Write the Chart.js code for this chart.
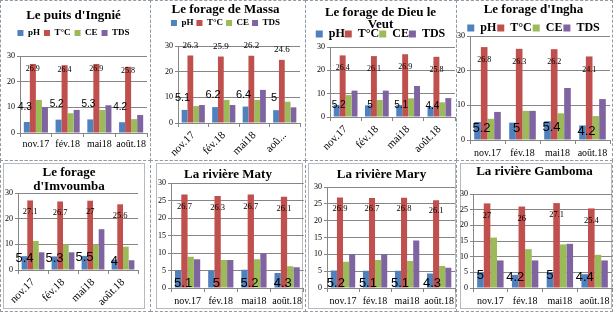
<!DOCTYPE html>
<html>
<head>
<meta charset="utf-8">
<script src="https://cdn.jsdelivr.net/npm/chart.js@4"></script>
<style>
  body { margin: 0; background: #fff; width: 613px; height: 312px; overflow: hidden; position: relative; }
  canvas { position: absolute; }
  .cell { position: absolute; box-sizing: border-box; border: 1px dashed #8e9aa8; }
  .frame { position: absolute; box-sizing: border-box; border: 1px solid #b9b9b9; }
</style>
</head>
<body>
<script>
// categories and series
const months = ['nov.17', 'fév.18', 'mai18', 'août.18'];
const seriesNames = ['pH', 'T°C', 'CE', 'TDS'];
const colors = ['#4f81bd', '#c0504d', '#9bbb59', '#8064a2'];

const sites = [
  "Le puits d'Ingnié",
  'Le forage de Massa',
  ['Le forage de Dieu le', 'Veut'],
  "Le forage d'Ingha",
  ['Le forage', "d'Imvoumba"],
  'La rivière Maty',
  'La rivière Mary',
  'La rivière Gamboma'
];

const phValues = [
  [4.3, 5.2, 5.3, 4.2],
  [5.1, 6.2, 6.4, 5],
  [5.2, 5, 5.1, 4.4],
  [5.2, 5, 5.4, 4.2],
  [5.4, 5.3, 5.5, 4],
  [5.1, 5, 5.2, 4.3],
  [5.2, 5.1, 5.1, 4.3],
  [5, 4.2, 5, 4.4]
];
const tempValues = [
  [26.9, 26.4, 26.9, 25.8],
  [26.3, 25.9, 26.2, 24.6],
  [26.4, 26.1, 26.9, 25.8],
  [26.8, 26.3, 26.2, 24.1],
  [27.1, 26.7, 27, 25.6],
  [26.7, 26.3, 26.7, 26.1],
  [26.9, 26.7, 26.8, 26.1],
  [27, 26, 27.1, 25.4]
];
const ceValues = [
  [12.9, 7.7, 9, 5.4],
  [6.6, 9, 9, 8.3],
  [9.4, 7.3, 8, 6.3],
  [6.1, 8.4, 7.7, 6.9],
  [11.3, 10, 10, 9.1],
  [8.9, 8, 8.2, 6.2],
  [7.8, 8.3, 8, 6.5],
  [16.1, 12.4, 13.9, 10.6]
];
const tdsValues = [
  [10.1, 9, 10.8, 7],
  [7, 7, 12.9, 6.1],
  [11.3, 11.3, 13.3, 8.1],
  [8.1, 8.4, 15, 11.8],
  [6.9, 6.9, 15.9, 3.8],
  [8.2, 8, 9.9, 5.9],
  [10, 10, 14.1, 6],
  [8.8, 8.8, 14.1, 8.8]
];

const serif = "'Liberation Serif', 'DejaVu Serif', serif";
const sans = "'Liberation Sans', Arial, sans-serif";
const gridColor = '#868686';

// where each little chart sits on the page (absolute px)
const panels = [
  { box: [0, 0, 150, 158], area: [20, 56, 147, 133], title: { y: 16, size: 13 },
    legend: { y: 33, size: 9, box: 6, pad: 4 }, step: 10, rot: 0, xPad: 1, xFont: 10,
    ph: { base: false, off: -15, dx: -2, size: 10 }, t: { off: 4.5, size: 8 } },
  { box: [151, 0, 154, 158], area: [178, 46, 300, 123], title: { y: 10, size: 13 },
    legend: { y: 23, size: 9, box: 6, pad: 3 }, step: 10, rot: 45, xPad: 2, xFont: 11,
    ph: { base: false, off: -12, dx: -2, size: 11 }, t: { off: -10, size: 9 } },
  { box: [306, 0, 150, 158], area: [330, 47, 455, 117], title: { y: 13, size: 13, lh: 12 },
    legend: { y: 34, size: 12, box: 7, pad: 0 }, step: 10, rot: 45, xPad: 2, xFont: 11,
    ph: { base: false, off: 0, dx: 2, size: 10 }, t: { off: 13, size: 8 } },
  { box: [457, 0, 156, 156], area: [470, 36, 610, 140], title: { y: 10, size: 13 },
    legend: { y: 28, size: 12, box: 7, pad: 1 }, step: 10, rot: 0, xPad: 3, xFont: 10,
    ph: { base: false, off: 6, dx: 4, size: 13 }, t: { off: 13, size: 8 } },
  { box: [0, 160, 150, 152], area: [18, 193, 138, 270], title: { y: 173, size: 13, lh: 14 },
    legend: null, step: 10, rot: 45, xPad: 2, xFont: 11,
    ph: { base: false, off: 2, dx: 0, size: 13 }, t: { off: 11, size: 8.5 } },
  { box: [151, 160, 154, 152], area: [171, 183, 305, 288], title: { y: 175, size: 13 },
    legend: null, step: 5, rot: 0, xPad: 3, xFont: 10,
    ph: { base: true, off: -5, dx: 5, size: 13 }, t: { off: 12, size: 8.5 } },
  { box: [306, 160, 151, 152], area: [327, 187, 457, 288], title: { y: 175, size: 13 },
    legend: null, step: 5, rot: 0, xPad: 3, xFont: 10,
    ph: { base: true, off: -5, dx: 2, size: 13 }, t: { off: 11, size: 8.5 } },
  { box: [457, 160, 156, 152], area: [473, 194, 612, 288], title: { y: 172, size: 13 },
    legend: null, step: 5, rot: 0, xPad: 3, xFont: 10,
    ph: { base: false, off: 3, dx: 0, size: 13 }, t: { off: 12, size: 8.5 } }
];

const cells = [
  [0, 0, 151, 161], [150, 0, 156, 161], [305, 0, 152, 161], [456, 0, 157, 161],
  [0, 160, 151, 152], [150, 160, 156, 152], [305, 160, 152, 152], [456, 160, 157, 152]
];
const frames = [
  [3, 163, 142, 146], [156, 163, 147, 146], [308, 163, 148, 146], [460, 163, 152, 146]
];

cells.forEach(c => {
  const d = document.createElement('div');
  d.className = 'cell';
  d.style.cssText = `left:${c[0]}px;top:${c[1]}px;width:${c[2]}px;height:${c[3]}px`;
  document.body.appendChild(d);
});
frames.forEach(c => {
  const d = document.createElement('div');
  d.className = 'frame';
  d.style.cssText = `left:${c[0]}px;top:${c[1]}px;width:${c[2]}px;height:${c[3]}px`;
  document.body.appendChild(d);
});

// move title / legend to where they sit in the picture
const placeBoxes = {
  id: 'placeBoxes',
  afterLayout(chart, args, opts) {
    const t = chart.titleBlock;
    if (t && opts.titleY != null) {
      const h = t.height;
      t.top = opts.titleY - opts.titleLh / 2;
      t.bottom = t.top + h;
    }
    const lg = chart.legend;
    if (lg && opts.legendY != null) {
      const h = lg.height;
      lg.top = opts.legendY - opts.legendPad - opts.legendItem / 2;
      lg.bottom = lg.top + h;
    }
  }
};

// pH and T°C value labels
const valueLabels = {
  id: 'valueLabels',
  afterDatasetsDraw(chart, args, opts) {
    const ctx = chart.ctx;
    const y0 = chart.scales.y.getPixelForValue(0);
    ctx.save();
    ctx.fillStyle = '#000';
    ctx.textAlign = 'center';
    ctx.textBaseline = 'middle';
    ctx.font = opts.phSize + 'px ' + sans;
    chart.getDatasetMeta(0).data.forEach((bar, i) => {
      const y = opts.phBase ? y0 + opts.phOff : bar.y + opts.phOff;
      ctx.fillText(String(chart.data.datasets[0].data[i]), bar.x + opts.phDx, y);
    });
    ctx.font = opts.tSize + 'px ' + serif;
    chart.getDatasetMeta(1).data.forEach((bar, i) => {
      ctx.fillText(String(chart.data.datasets[1].data[i]), bar.x, bar.y + opts.tOff);
    });
    ctx.restore();
  }
};

panels.forEach((p, k) => {
  const [bx, by, bw, bh] = p.box;
  const cv = document.createElement('canvas');
  cv.width = bw;
  cv.height = bh;
  cv.style.left = bx + 'px';
  cv.style.top = by + 'px';
  document.body.appendChild(cv);

  const al = p.area[0] - bx, at = p.area[1] - by, ar = p.area[2] - bx, ab = p.area[3] - by;
  const lines = Array.isArray(sites[k]) ? sites[k].length : 1;
  const lh = p.title.lh || p.title.size;
  const item = p.legend ? Math.max(p.legend.size, p.legend.box) : 0;
  const legendH = p.legend ? item + p.legend.pad + 10 : 0;
  const padTop = at - lines * lh - legendH;
  const series = [phValues[k], tempValues[k], ceValues[k], tdsValues[k]];

  new Chart(cv, {
    type: 'bar',
    data: {
      labels: months,
      datasets: series.map((vals, i) => ({
        label: seriesNames[i],
        data: vals,
        backgroundColor: colors[i],
        borderWidth: 0,
        barPercentage: 1,
        categoryPercentage: 0.76
      }))
    },
    options: {
      responsive: false,
      animation: false,
      layout: { padding: { top: padTop, left: 0, right: bw - ar, bottom: 0 } },
      plugins: {
        title: {
          display: true, text: sites[k], color: '#000',
          font: { family: serif, size: p.title.size, weight: 'bold', lineHeight: lh / p.title.size },
          padding: { top: 0, bottom: 0 }
        },
        legend: {
          display: !!p.legend,
          labels: p.legend ? {
            boxWidth: p.legend.box, boxHeight: p.legend.box, padding: p.legend.pad, color: '#000',
            font: { family: serif, size: p.legend.size, weight: 'bold' }
          } : {}
        },
        tooltip: { enabled: false },
        placeBoxes: {
          titleY: p.title.y - by, titleLh: lh,
          legendY: p.legend ? p.legend.y - by : null,
          legendPad: p.legend ? p.legend.pad : 0, legendItem: item
        },
        valueLabels: {
          phSize: p.ph.size, phBase: p.ph.base, phOff: p.ph.off, phDx: p.ph.dx,
          tSize: p.t.size, tOff: p.t.off
        }
      },
      scales: {
        x: {
          grid: { drawOnChartArea: false, offset: true, color: gridColor, tickLength: 4 },
          border: { color: gridColor },
          ticks: {
            color: '#000', font: { family: serif, size: p.xFont }, autoSkip: false,
            minRotation: p.rot, maxRotation: p.rot, padding: p.xPad,
            callback: (v, i) => (k === 1 && i === 3) ? 'aoû...' : months[i]
          },
          afterFit: s => { s.height = bh - ab; }
        },
        y: {
          min: 0, max: 30,
          grid: { color: gridColor, tickLength: 3 },
          border: { color: gridColor },
          ticks: { stepSize: p.step, color: '#000', font: { family: serif, size: 8 }, padding: 2 },
          afterFit: s => { s.width = al; }
        }
      }
    },
    plugins: [placeBoxes, valueLabels]
  });
});
</script>
</body>
</html>
